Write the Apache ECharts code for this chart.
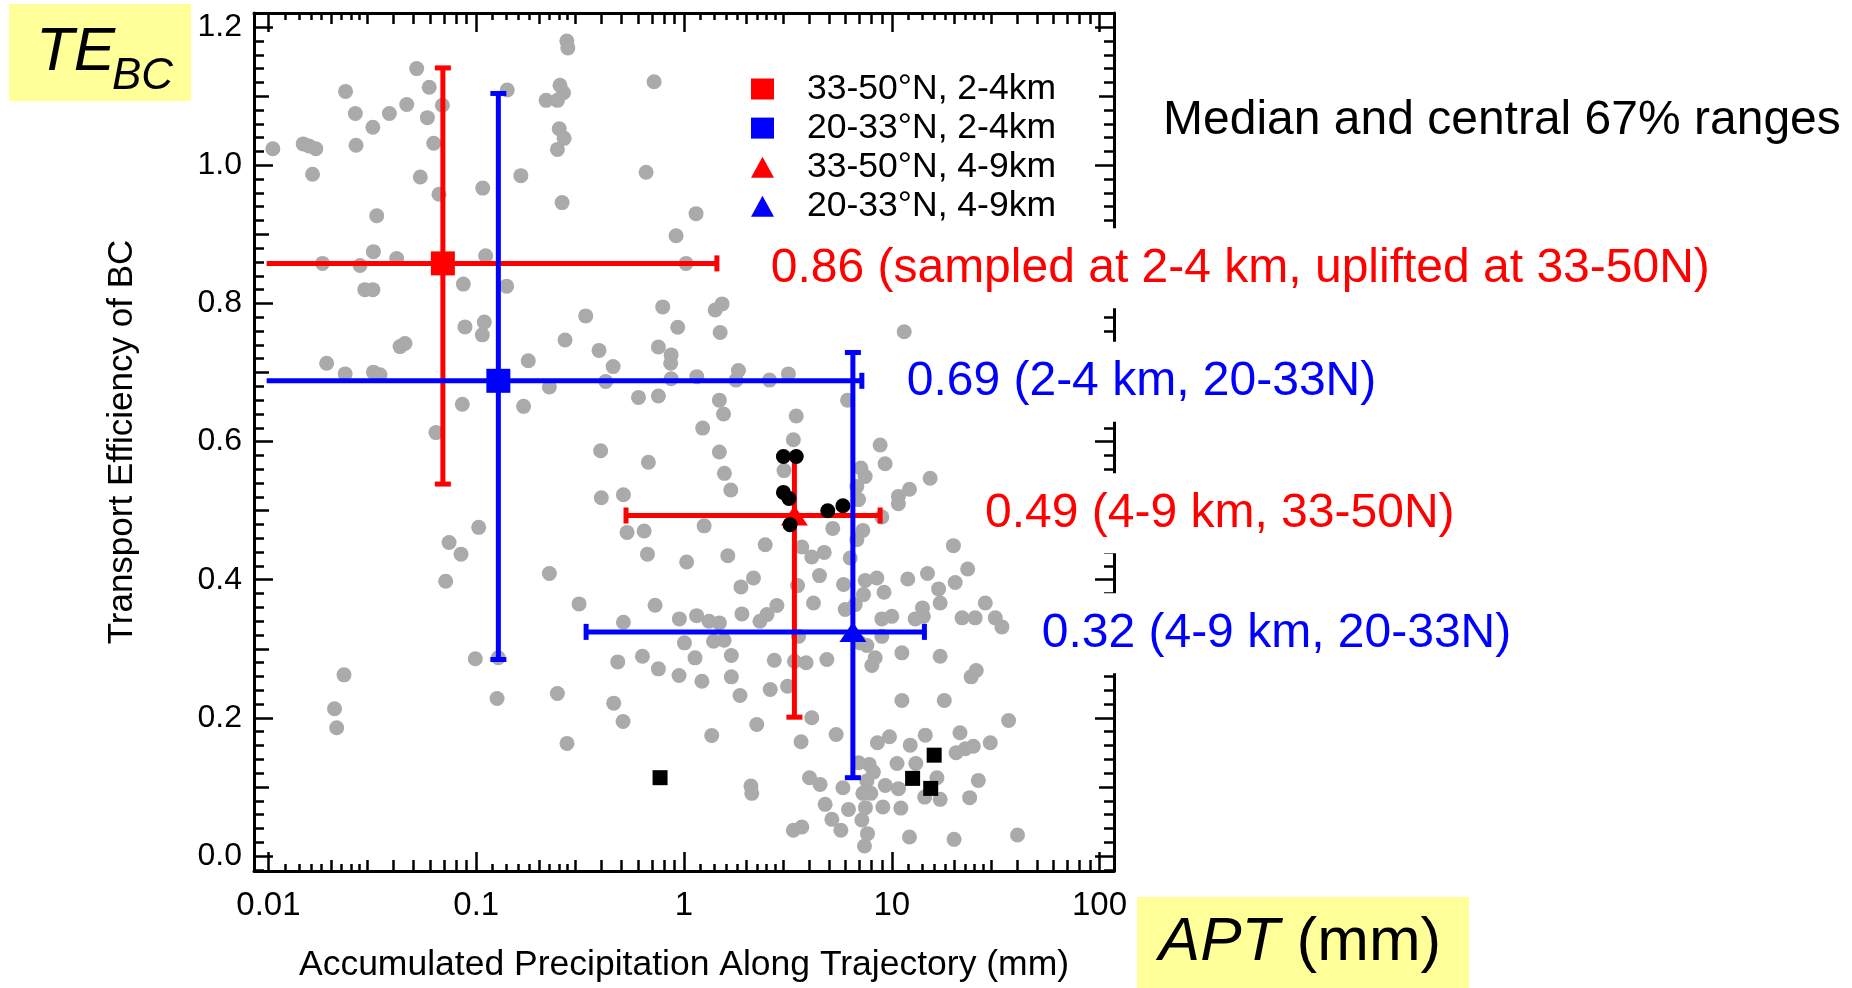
<!DOCTYPE html>
<html><head><meta charset="utf-8">
<script src="https://cdn.jsdelivr.net/npm/echarts@6/dist/echarts.min.js"></script>
<style>html,body{margin:0;padding:0;background:#fff}#c{width:1852px;height:988px}</style>
</head><body><div id="c"></div><script>
// ---------------- data ----------------
var grayPoints = [
[0.0105,1.024],[0.0147,1.031],[0.0157,1.028],[0.0169,1.024],[0.0163,0.987],[0.0235,1.107],[0.0262,1.075],[0.0264,1.029],
[0.0318,1.055],[0.0382,1.075],[0.0463,1.088],[0.0517,1.140],[0.0594,1.113],[0.0582,1.069],[0.0687,1.087],[0.0624,1.032],
[0.0538,0.983],[0.0662,0.958],[0.0332,0.927],[0.032,0.875],[0.0414,0.865],[0.0182,0.858],[0.0276,0.855],[0.0291,0.820],
[0.0318,0.820],[0.0867,0.828],[0.111,0.869],[0.140,0.825],[0.1075,0.967],[0.141,1.109],[0.164,0.985],[0.273,1.180],
[0.276,1.170],[0.253,1.116],[0.263,1.105],[0.217,1.094],[0.246,1.094],[0.251,1.053],[0.265,1.039],[0.246,1.023],
[0.259,0.946],[0.718,1.121],[0.657,0.990],[0.916,0.898],[1.023,0.858],[0.79,0.795],[1.143,0.930],
[0.01906,0.7135],[0.0234,0.698],[0.032,0.7005],[0.0344,0.6966],[0.043,0.7375],[0.0454,0.742],[0.0883,0.766],[0.1094,0.773],
[0.107,0.7545],[0.0857,0.654],[0.064,0.613],[0.178,0.717],[0.2677,0.747],[0.3365,0.782],[0.39,0.732],[0.456,0.7086],
[0.42,0.687],[0.225,0.679],[0.169,0.651],[0.604,0.664],[0.753,0.666],[0.933,0.7656],[0.753,0.737],[0.867,0.7255],
[0.863,0.7135],[0.867,0.691],[0.397,0.5867],[0.674,0.570],[0.40,0.5187],[0.511,0.523],[0.532,0.4685],[0.643,0.4706],
[0.667,0.437],[1.03,0.4257],[0.1028,0.4758],[0.074,0.454],[0.0845,0.437],[0.0713,0.3977],[0.225,0.409],[0.3126,0.365],
[0.726,0.363],
[1.413,0.7906],[1.525,0.7993],[1.493,0.758],[11.48,0.759],[1.152,0.694],[1.828,0.703],[1.78,0.689],[2.58,0.689],
[3.18,0.698],[1.48,0.660],[1.55,0.640],[1.23,0.6195],[3.47,0.637],[6.13,0.660],[3.36,0.6026],[1.48,0.585],
[1.565,0.554],[1.68,0.530],[3.03,0.558],[8.79,0.595],[9.29,0.568],[7.1,0.5617],[7.45,0.5495],[6.79,0.535],
[6.92,0.516],[15.3,0.547],[12.17,0.531],[10.76,0.5206],[10.76,0.510],[8.96,0.4908],[1.25,0.478],[2.46,0.4507],
[1.625,0.4348],[3.69,0.4474],[4.12,0.433],[4.73,0.4396],[5.2,0.4743],[6.31,0.4315],[7.26,0.4714],[6.79,0.458],
[4.49,0.406],[2.16,0.4026],[1.88,0.3896],[3.52,0.3915],[5.86,0.393],[7.45,0.399],[8.48,0.4026],[9.18,0.3818],
[11.94,0.401],[14.86,0.409],[16.8,0.3867],[19.8,0.4493],[20.2,0.396],[23.2,0.4156],[28.2,0.3664],[4.2,0.3664],
[0.511,0.3384],[0.95,0.3433],[1.005,0.3086],[0.48,0.281],[0.631,0.2892],[0.753,0.271],[0.947,0.2613],[0.099,0.2855],
[0.1277,0.287],[0.126,0.228],[0.0231,0.2623],[0.0208,0.2131],[0.0213,0.1857],[0.2458,0.2353],[0.2735,0.163],[0.459,0.2213],
[0.509,0.1948],
[2.8,0.3626],[2.51,0.3495],[2.32,0.3399],[1.9,0.3505],[1.48,0.3375],[1.32,0.3399],[1.15,0.348],[1.387,0.311],
[1.56,0.3124],[1.69,0.2902],[1.13,0.2869],[1.22,0.2531],[1.69,0.2594],[1.86,0.2324],[2.6,0.241],[2.72,0.2834],
[3.15,0.2458],[3.4,0.282],[3.87,0.2797],[3.56,0.318],[4.87,0.2845],[5.97,0.3568],[6.67,0.364],[7.31,0.3785],
[8.96,0.3433],[10.0,0.347],[8.96,0.318],[7.05,0.3086],[7.59,0.3047],[8.32,0.287],[8.02,0.2758],[11.19,0.2941],
[12.97,0.3433],[14.06,0.3592],[14.2,0.347],[17.1,0.3664],[21.8,0.3448],[25.2,0.3448],[31.5,0.3448],[33.9,0.3317],
[17.1,0.2892],[24.1,0.2594],[25.5,0.2685],[11.19,0.2252],[17.9,0.2252],[36.5,0.1962],[2.24,0.1905],[1.36,0.1745],
[3.66,0.1654],[4.12,0.2001],[5.4,0.176],[8.53,0.164],[9.75,0.1727],[12.27,0.1605],[14.5,0.175],[21.3,0.1785],
[24.7,0.159],[22.6,0.1553],[20.4,0.1495],[29.8,0.164],[10.6,0.134],[13.06,0.134],[16.5,0.1134],[26.1,0.1095],
[23.7,0.0845],[17.1,0.082],[14.4,0.0853],[10.77,0.0975],[9.3,0.1022],[9.06,0.0709],[11.06,0.0694],[7.93,0.0907],
[7.26,0.0907],[7.47,0.07],[7.79,0.1326],[8.16,0.1215],[7.59,0.1085],[6.92,0.135],[6.19,0.0675],[5.82,0.0989],
[4.78,0.0748],[4.52,0.1037],[4.02,0.1134],[5.15,0.0531],[5.69,0.0372],[7.18,0.0521],[7.64,0.0324],[7.39,0.0145],
[3.36,0.0372],[3.69,0.0419],[12.17,0.0275],[19.95,0.0241],[40.3,0.0304],[2.1,0.1012],[2.12,0.0907]
];
var blackCircles = [[3.01,0.5784],[3.47,0.5784],[3.01,0.5264],[3.2,0.5177],[3.24,0.4797],[4.92,0.4999],[5.82,0.5072]];
var blackSquares = [[0.767,0.1134],[16.0,0.146],[12.6,0.1124],[15.4,0.0979]];

var medianNames  = ['33-50°N, 2-4km', '20-33°N, 2-4km', '33-50°N, 4-9km', '20-33°N, 4-9km'];
var medianColors = ['#ff0000', '#0000ff', '#ff0000', '#0000ff'];
var medianSymbols = ['rect', 'rect', 'triangle', 'triangle'];
var medianX = [0.0691, 0.1278, 3.4, 6.5];
var medianY = [0.858, 0.688, 0.493, 0.3245];
var xLow  = [0.0098, 0.0098, 0.526, 0.338];
var xHigh = [1.44, 7.18, 8.79, 14.36];
var yLow  = [0.5385, 0.2845, 0.201, 0.1134];
var yHigh = [1.141, 1.104, 0.577, 0.729];

var annotations = ['0.86 (sampled at 2-4 km, uplifted at 33-50N)', '0.69 (2-4 km, 20-33N)', '0.49 (4-9 km, 33-50N)', '0.32 (4-9 km, 20-33N)'];

var xMajorTicks = [0.01, 0.1, 1, 10, 100];
var decades = [0.01, 0.1, 1, 10];
var midMultipliers = [2, 3, 4, 5, 6, 7, 8, 9];
var smallMultipliers = [1.2, 1.4, 1.6, 1.8, 2.25, 2.5, 2.75];
var yMajorTicks = [0, 0.2, 0.4, 0.6, 0.8, 1.0, 1.2];
var yMidTicks = [0.1, 0.3, 0.5, 0.7, 0.9, 1.1];
var yMinorTicks = [];
for (var i = -1; i <= 61; i++) { if (i % 5 !== 0) yMinorTicks.push(+(i * 0.02).toFixed(2)); }

var xMidTicks = [], xSmallTicks = [];
decades.forEach(function (d) {
  midMultipliers.forEach(function (m) { xMidTicks.push(+(d * m).toPrecision(6)); });
  smallMultipliers.forEach(function (m) { xSmallTicks.push(+(d * m).toPrecision(6)); });
});

// ---------------- chart ----------------
var FONT = "'Liberation Sans', Arial, Helvetica, sans-serif";
var X_MIN = 0.00852, X_MAX = 117.4, Y_MIN = -0.0217, Y_MAX = 1.2205;

function xAx(pos, ticks, len, withLabel, withLine, withName) {
  var a = {
    type: 'log', logBase: 10, min: X_MIN, max: X_MAX, position: pos,
    axisLine: { show: withLine, onZero: false, lineStyle: { color: '#000', width: 3 } },
    axisTick: { show: true, inside: true, length: len, customValues: ticks, lineStyle: { color: '#000', width: 2.5 } },
    axisLabel: { show: withLabel, customValues: ticks, margin: 18, color: '#000', fontSize: 33, fontFamily: FONT,
      formatter: function (v) { return String(+(+v).toPrecision(6)); } },
    splitLine: { show: false }, minorTick: { show: false }, minorSplitLine: { show: false }
  };
  if (withName) {
    a.name = 'Accumulated Precipitation Along Trajectory (mm)';
    a.nameLocation = 'middle'; a.nameGap = 76;
    a.nameTextStyle = { color: '#000', fontSize: 35.5, fontFamily: FONT };
  }
  return a;
}
function yAx(pos, ticks, len, withLabel, withLine, withName) {
  var a = {
    type: 'value', min: Y_MIN, max: Y_MAX, position: pos,
    axisLine: { show: withLine, onZero: false, lineStyle: { color: '#000', width: 3 } },
    axisTick: { show: true, inside: true, length: len, customValues: ticks, lineStyle: { color: '#000', width: 2.5 } },
    axisLabel: { show: withLabel, customValues: ticks, margin: 12, color: '#000', fontSize: 32, fontFamily: FONT,
      formatter: function (v) { return (+v).toFixed(1); } },
    splitLine: { show: false }, minorTick: { show: false }, minorSplitLine: { show: false }
  };
  if (withName) {
    a.name = 'Transport Efficiency of BC';
    a.nameLocation = 'middle'; a.nameGap = 114;
    a.nameTextStyle = { color: '#000', fontSize: 35, fontFamily: FONT };
  }
  return a;
}

var errData = medianX.map(function (x, i) { return [x, medianY[i], xLow[i], xHigh[i], yLow[i], yHigh[i], i]; });

var chart = echarts.init(document.getElementById('c'), null, { renderer: 'canvas' });
var series = [
  { type: 'scatter', name: 'all', data: grayPoints, symbol: 'circle', symbolSize: 15,
    itemStyle: { color: '#aaaaaa', opacity: 1 }, z: 2, silent: true },
  { type: 'custom', name: 'ranges', data: errData, z: 3, clip: true, silent: true,
    renderItem: function (params, api) {
      var idx = api.value(6), col = medianColors[idx];
      var xm = api.value(0), ym = api.value(1), xl = api.value(2), xh = api.value(3), yl = api.value(4), yh = api.value(5);
      var pL = api.coord([xl, ym]), pR = api.coord([xh, ym]);
      var pB = api.coord([xm, yl]), pT = api.coord([xm, yh]);
      var st = { stroke: col, lineWidth: 5 };
      var cap = 8;
      var ch = [
        { type: 'line', shape: { x1: pL[0], y1: pL[1], x2: pR[0], y2: pR[1] }, style: st },
        { type: 'line', shape: { x1: pB[0], y1: pB[1], x2: pT[0], y2: pT[1] }, style: st },
        { type: 'line', shape: { x1: pR[0], y1: pR[1] - cap, x2: pR[0], y2: pR[1] + cap }, style: st },
        { type: 'line', shape: { x1: pB[0] - cap, y1: pB[1], x2: pB[0] + cap, y2: pB[1] }, style: st },
        { type: 'line', shape: { x1: pT[0] - cap, y1: pT[1], x2: pT[0] + cap, y2: pT[1] }, style: st }
      ];
      if (xl >= 0.01) ch.push({ type: 'line', shape: { x1: pL[0], y1: pL[1] - cap, x2: pL[0], y2: pL[1] + cap }, style: st });
      return { type: 'group', children: ch };
    }
  }
];
medianNames.forEach(function (n, i) {
  series.push({ type: 'scatter', name: n, data: [[medianX[i], medianY[i]]], symbol: medianSymbols[i],
    symbolSize: medianSymbols[i] === 'rect' ? 24 : [27, 20],
    itemStyle: { color: medianColors[i], opacity: 1 }, z: 4, silent: true });
});
series.push({ type: 'scatter', name: 'black circles', data: blackCircles, symbol: 'circle', symbolSize: 15,
  itemStyle: { color: '#000', opacity: 1 }, z: 5, silent: true });
series.push({ type: 'scatter', name: 'black squares', data: blackSquares, symbol: 'rect', symbolSize: 15,
  itemStyle: { color: '#000', opacity: 1 }, z: 5, silent: true });

var annX = [770.7, 906.7, 985, 1041.7];
var annY = [268.3, 381.7, 513.3, 633.3];
var graphics = [
  { type: 'rect', shape: { x: 9, y: 4, width: 182, height: 97 }, style: { fill: '#ffff99' }, z: 100 },
  { type: 'text', x: 36, y: 53, style: { text: 'TE', fill: '#000', fontSize: 62, fontStyle: 'italic', fontFamily: FONT, verticalAlign: 'middle' }, z: 101 },
  { type: 'text', x: 112, y: 77, style: { text: 'BC', fill: '#000', fontSize: 44, fontStyle: 'italic', fontFamily: FONT, verticalAlign: 'middle' }, z: 101 },
  { type: 'rect', shape: { x: 1137, y: 897, width: 332, height: 91 }, style: { fill: '#ffff99' }, z: 100 },
  { type: 'text', x: 1300, y: 943, style: { text: '{i|APT} (mm)', fill: '#000', fontSize: 62, fontFamily: FONT, align: 'center', verticalAlign: 'middle',
      rich: { i: { fontSize: 62, fontStyle: 'italic', fontFamily: FONT, fill: '#000' } } }, z: 101 },
  { type: 'text', x: 1163, y: 121, style: { text: 'Median and central 67% ranges', fill: '#000', fontSize: 48, fontFamily: FONT, verticalAlign: 'middle' }, z: 101 }
];
annotations.forEach(function (t, i) {
  graphics.push({ type: 'text', x: annX[i] - 6, y: annY[i], z: 100,
    style: { text: t, fill: medianColors[i], fontSize: 48, fontFamily: FONT, verticalAlign: 'middle',
      backgroundColor: '#ffffff', padding: [16, 6, 16, 6] } });
});

chart.setOption({
  animation: false,
  backgroundColor: '#ffffff',
  grid: { left: 254, top: 13, width: 860, height: 859, containLabel: false },
  xAxis: [
    xAx('bottom', xMajorTicks, 19, true, true, true),
    xAx('bottom', xMidTicks, 11, false, false, false),
    xAx('bottom', xSmallTicks, 7, false, false, false),
    xAx('top', xMajorTicks, 19, false, true, false),
    xAx('top', xMidTicks, 11, false, false, false),
    xAx('top', xSmallTicks, 7, false, false, false)
  ],
  yAxis: [
    yAx('left', yMajorTicks, 19, true, true, true),
    yAx('left', yMidTicks, 15, false, false, false),
    yAx('left', yMinorTicks, 10, false, false, false),
    yAx('right', yMajorTicks, 19, false, true, false),
    yAx('right', yMidTicks, 15, false, false, false),
    yAx('right', yMinorTicks, 10, false, false, false)
  ],
  legend: {
    orient: 'vertical', left: 746, top: 66, itemWidth: 23, itemHeight: 21, itemGap: 3.1,
    data: medianNames, selectedMode: false,
    textStyle: { fontSize: 35.5, color: '#000', fontFamily: FONT, padding: [0, 0, 0, 28] }
  },
  series: series,
  graphic: graphics
});
</script></body></html>
